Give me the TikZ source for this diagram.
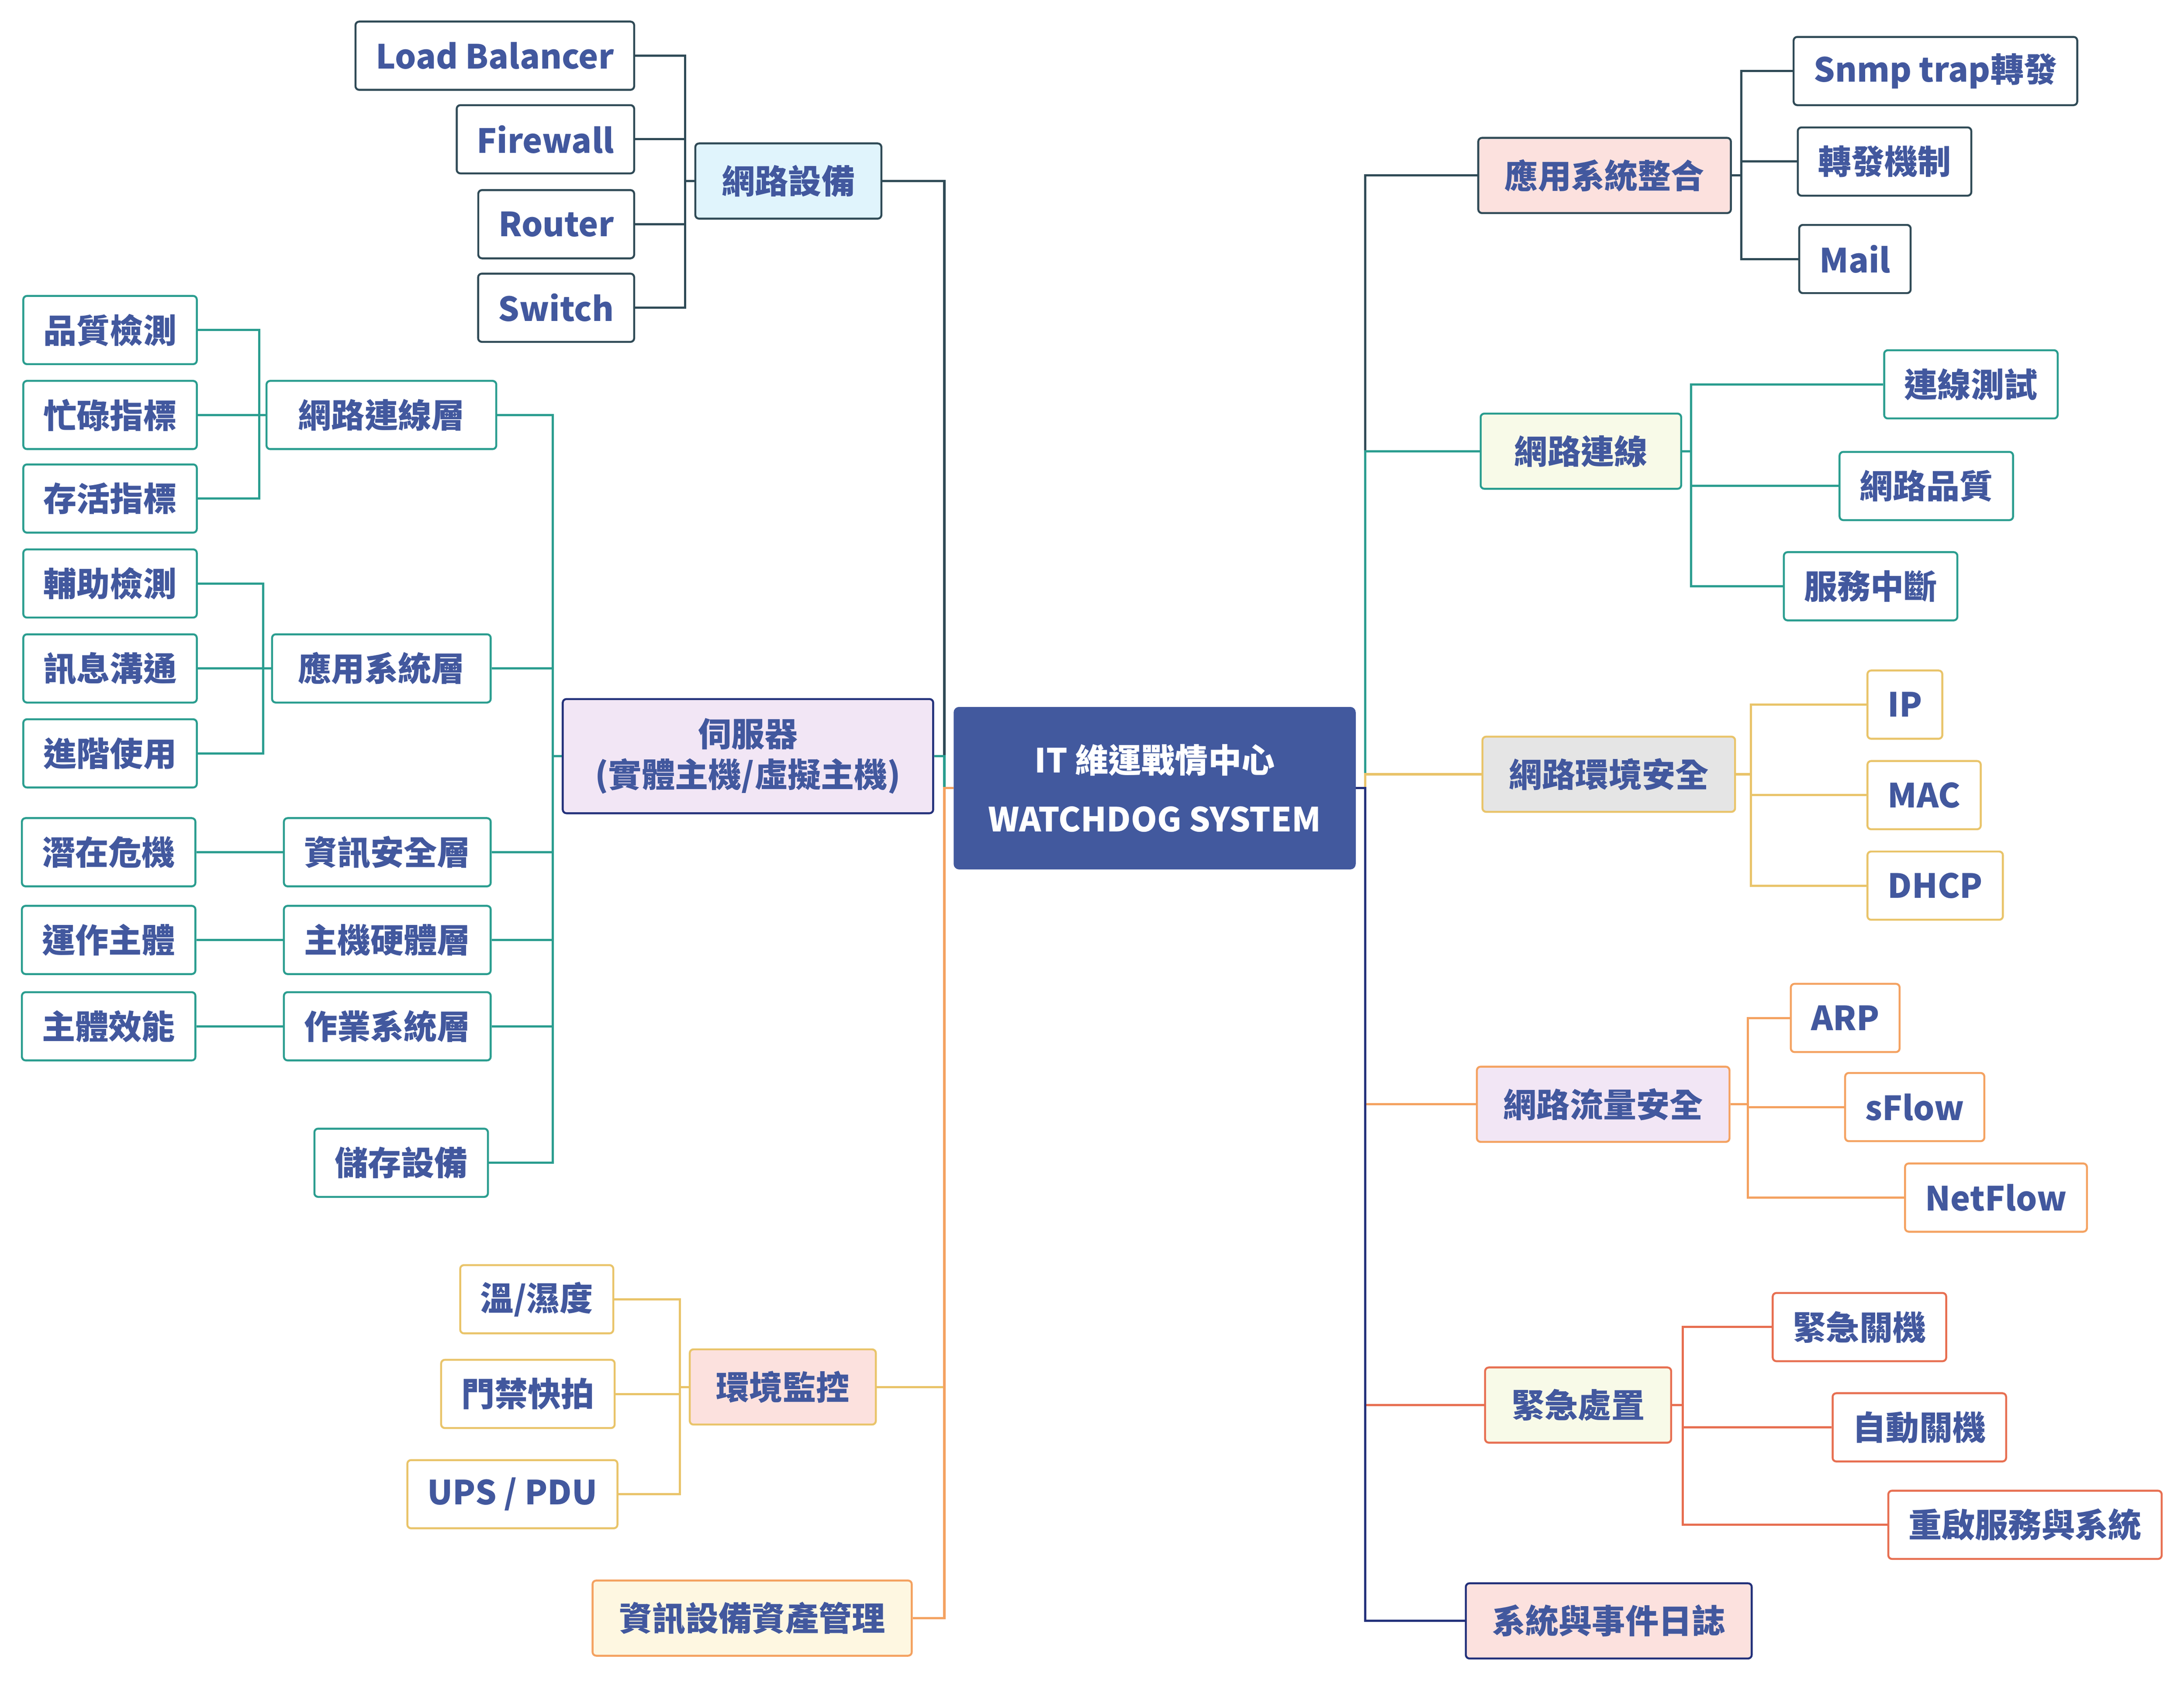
\documentclass[tikz,border=0pt]{standalone}
\usepackage{fontspec}
\setmainfont{Noto Sans CJK TC}
\usetikzlibrary{positioning}

\definecolor{txt}{HTML}{42589E}
\definecolor{cslate}{HTML}{2F4A56}
\definecolor{cteal}{HTML}{2A9D8F}
\definecolor{cyel}{HTML}{E9C46A}
\definecolor{corg}{HTML}{F4A261}
\definecolor{cred}{HTML}{E76F51}
\definecolor{cnavy}{HTML}{22307A}
\definecolor{fblue}{HTML}{E0F4FC}
\definecolor{flav}{HTML}{F2E6F5}
\definecolor{fpink}{HTML}{FCE1DE}
\definecolor{fcream}{HTML}{FEF7E1}
\definecolor{fgreen}{HTML}{F8FAE8}
\definecolor{fgray}{HTML}{E5E5E5}
\definecolor{froot}{HTML}{42599E}

\tikzset{
leaf/.style={draw=#1,rectangle,rounded corners=1.5pt,line width=0.8pt,
fill=white,text=txt,font=\bfseries\fontsize{13.6}{16}\selectfont,
inner xsep=0.29cm,inner ysep=0pt,minimum height=0.98cm},
branch/.style={leaf=#1,inner xsep=0.38cm,minimum height=1.08cm},
link/.style={draw=#1,line width=0.9pt}
}

\begin{document}
\begin{tikzpicture}[x=0.02cm,y=-0.02cm]
\useasboundingbox (0,0) rectangle (1568,1208.3);

\node[draw=froot,rectangle,rounded corners=2pt,fill=froot,text=white,
font=\bfseries\fontsize{13.6}{24}\selectfont,align=center,
minimum width=5.76cm,minimum height=2.32cm](root) at (829,566){IT 維運戰情中心\\WATCHDOG SYSTEM};

\coordinate (lj) at (678,566);
\coordinate (rj) at (980,566);

\node[branch=cslate,fill=fblue](net) at (566,130){網路設備};
\node[leaf=cslate,anchor=east](lb) at (456,40){Load Balancer};
\node[leaf=cslate,anchor=east](fw) at (456,100){Firewall};
\node[leaf=cslate,anchor=east](rt) at (456,161){Router};
\node[leaf=cslate,anchor=east](sw) at (456,221){Switch};
\coordinate (netj) at (492,130);

\node[leaf=cnavy,fill=flav,align=center,font=\bfseries\fontsize{13.6}{16.5}\selectfont,
minimum width=5.32cm,minimum height=1.64cm](srv) at (537,543){伺服器\\(實體主機/虛擬主機)};
\coordinate (srvj) at (397,543);
\node[leaf=cteal,anchor=east,minimum width=3.3cm](nl) at (357,298){網路連線層};
\node[leaf=cteal,anchor=east,minimum width=3.14cm](al) at (353,480){應用系統層};
\node[leaf=cteal,anchor=east](sl) at (353,612){資訊安全層};
\node[leaf=cteal,anchor=east](hl) at (353,675){主機硬體層};
\node[leaf=cteal,anchor=east](ol) at (353,737){作業系統層};
\node[leaf=cteal,anchor=east](st) at (351,835){儲存設備};

\node[leaf=cteal,anchor=east](q1) at (142,237){品質檢測};
\node[leaf=cteal,anchor=east](q2) at (142,298){忙碌指標};
\node[leaf=cteal,anchor=east](q3) at (142,358){存活指標};
\coordinate (nlj) at (186,298);
\node[leaf=cteal,anchor=east](a1) at (142,419){輔助檢測};
\node[leaf=cteal,anchor=east](a2) at (142,480){訊息溝通};
\node[leaf=cteal,anchor=east](a3) at (142,541){進階使用};
\coordinate (alj) at (189,480);
\node[leaf=cteal,anchor=east](p1) at (141,612){潛在危機};
\node[leaf=cteal,anchor=east](p2) at (141,675){運作主體};
\node[leaf=cteal,anchor=east](p3) at (141,737){主體效能};

\node[branch=cyel,fill=fpink](env) at (562,996){環境監控};
\node[leaf=cyel,anchor=east](t1) at (441,933){溫/濕度};
\node[leaf=cyel,anchor=east](t2) at (442,1001){門禁快拍};
\node[leaf=cyel,anchor=east](t3) at (444,1073){UPS / PDU};
\coordinate (envj) at (488,996);
\node[branch=corg,fill=fcream](asset) at (540,1162){資訊設備資產管理};

\node[branch=cslate,fill=fpink](app) at (1152,126){應用系統整合};
\node[leaf=cslate,anchor=west](s1) at (1287,51){Snmp trap轉發};
\node[leaf=cslate,anchor=west](s2) at (1290,116){轉發機制};
\node[leaf=cslate,anchor=west](s3) at (1291,186){Mail};
\coordinate (appj) at (1250,126);

\node[branch=cteal,fill=fgreen,minimum width=2.88cm](conn) at (1135,324){網路連線};
\node[leaf=cteal,anchor=west](c1) at (1352,276){連線測試};
\node[leaf=cteal,anchor=west](c2) at (1320,349){網路品質};
\node[leaf=cteal,anchor=west](c3) at (1280,421){服務中斷};
\coordinate (connj) at (1214,324);

\node[branch=cyel,fill=fgray](sec) at (1155,556){網路環境安全};
\node[leaf=cyel,anchor=west](i1) at (1340,506){IP};
\node[leaf=cyel,anchor=west](i2) at (1340,571){MAC};
\node[leaf=cyel,anchor=west](i3) at (1340,636){DHCP};
\coordinate (secj) at (1257,556);

\node[branch=corg,fill=flav](flow) at (1151,793){網路流量安全};
\node[leaf=corg,anchor=west](f1) at (1285,731){ARP};
\node[leaf=corg,anchor=west](f2) at (1324,795){sFlow};
\node[leaf=corg,anchor=west](f3) at (1367,860){NetFlow};
\coordinate (flowj) at (1255,793);

\node[branch=cred,fill=fgreen](emg) at (1133,1009){緊急處置};
\node[leaf=cred,anchor=west](e1) at (1272,953){緊急關機};
\node[leaf=cred,anchor=west](e2) at (1315,1025){自動關機};
\node[leaf=cred,anchor=west](e3) at (1355,1095){重啟服務與系統};
\coordinate (emgj) at (1208,1009);

\node[branch=cnavy,fill=fpink](log) at (1155,1164){系統與事件日誌};

\draw[link=cslate] (root.west) -- (lj) |- (net.east);
\draw[link=cteal] (lj) |- (srv.east);
\draw[link=cyel] (env.east) -- (env.east -| lj);
\draw[link=corg] (root.west) -- (lj) |- (asset.east);

\foreach \n in {lb,fw,rt,sw} \draw[link=cslate] (\n.east) -| (netj);
\draw[link=cslate] (netj) -- (net.west);
\foreach \n in {nl,al,sl,hl,ol,st} \draw[link=cteal] (\n.east) -| (srvj);
\draw[link=cteal] (srvj) -- (srv.west);
\foreach \n in {q1,q2,q3} \draw[link=cteal] (\n.east) -| (nlj);
\draw[link=cteal] (nlj) -- (nl.west);
\foreach \n in {a1,a2,a3} \draw[link=cteal] (\n.east) -| (alj);
\draw[link=cteal] (alj) -- (al.west);
\draw[link=cteal] (p1) -- (sl);
\draw[link=cteal] (p2) -- (hl);
\draw[link=cteal] (p3) -- (ol);
\foreach \n in {t1,t2,t3} \draw[link=cyel] (\n.east) -| (envj);
\draw[link=cyel] (envj) -- (env.west);

\draw[link=cslate] (root.east) -- (rj) |- (app.west);
\draw[link=cteal] (rj) |- (conn.west);
\draw[link=cyel] (rj) |- (sec.west);
\draw[link=corg] (rj) |- (flow.west);
\draw[link=cred] (rj) |- (emg.west);
\draw[link=cnavy] (root.east) -- (rj) |- (log.west);

\foreach \n in {s1,s2,s3} \draw[link=cslate] (appj) |- (\n.west);
\draw[link=cslate] (app.east) -- (appj);
\foreach \n in {c1,c2,c3} \draw[link=cteal] (connj) |- (\n.west);
\draw[link=cteal] (conn.east) -- (connj);
\foreach \n in {i1,i2,i3} \draw[link=cyel] (secj) |- (\n.west);
\draw[link=cyel] (sec.east) -- (secj);
\foreach \n in {f1,f2,f3} \draw[link=corg] (flowj) |- (\n.west);
\draw[link=corg] (flow.east) -- (flowj);
\foreach \n in {e1,e2,e3} \draw[link=cred] (emgj) |- (\n.west);
\draw[link=cred] (emg.east) -- (emgj);
\end{tikzpicture}
\end{document}
